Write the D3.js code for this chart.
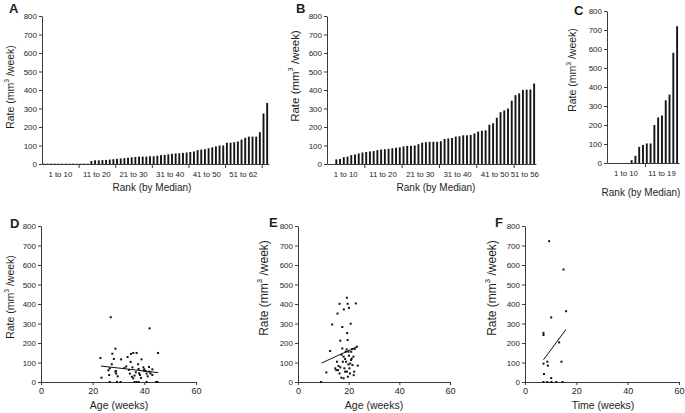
<!DOCTYPE html>
<html><head><meta charset="utf-8">
<script src="https://cdn.jsdelivr.net/npm/d3@7/dist/d3.min.js"></script>
<style>body{margin:0;background:#fff}svg{display:block;font-family:"Liberation Sans",Arial,sans-serif}</style>
</head><body><svg id="c" width="685" height="413"></svg>
<script>
// ---------- data ----------
const rateTicks = [0,100,200,300,400,500,600,700,800];
const xTicks = [0,20,40,60];

const rankA = [2,2,2,2,2,2,2,2,2,2,2,2,2,
  16,20,20,21,22,24,26,
  28,30,32,34,36,38,40,40,40,42,
  42,45,48,50,52,55,57,58,60,62,
  65,68,75,78,80,85,90,95,100,100,
  115,115,118,122,132,142,148,148,148,172,273,330];
const groupsA = ["1 to 10","11 to 20","21 to 30","31 to 40","41 to 50","51 to 62"];

const rankB = [0,0,25,27,37,40,48,52,57,62,
  65,68,70,75,78,80,82,85,88,90,
  95,98,98,100,107,115,118,120,120,120,
  123,135,138,140,148,150,155,155,157,165,
  175,180,182,212,220,250,280,290,300,342,
  372,382,400,402,403,435];
const groupsB = ["1 to 10","11 to 20","21 to 30","31 to 40","41 to 50","51 to 56"];

const rankC = [0,0,0,0,0,0,15,38,85,95,103,103,200,240,250,330,360,580,720];
const groupsC = ["1 to 10","11 to 19"];

const ageD = [23.0,23.4,27.0,28.8,27.6,28.2,26.6,26.1,27.4,26.4,26.6,28.8,29.1,29.7,29.4,31.0,30.8,32.3,33.5,34.0,34.4,34.8,35.7,37.0,34.7,35.4,35.2,35.7,36.7,37.6,37.8,38.3,38.7,36.2,37.0,37.8,38.9,39.6,39.8,40.5,40.9,41.3,41.8,41.9,42.4,42.0,43.1,43.1,44.5,45.1,45.3,40.9,29.0,36.2,33.0,38.0,40.0];
const rateD = [123,22,332,171,145,118,70,60,91,36,0,53,43,29,0,116,0,72,128,62,43,144,149,149,103,75,27,19,50,91,67,36,21,0,0,0,116,75,58,56,43,29,77,53,44,275,65,36,0,0,149,0,56,33,80,45,65];
const fitD = [[23.2,82],[45.4,48]];

const ageE = [9.1,11.2,12.7,13.5,15.1,14.7,15.6,16.4,16.7,17.5,18.1,17.5,19.3,19.6,20.1,19.4,19.6,20.8,22.8,23.2,23.6,
  15.4,16.0,15.8,16.4,17.1,17.7,18.0,18.3,18.6,18.8,19.0,19.3,19.7,19.9,20.1,20.3,20.5,20.9,21.0,21.4,21.5,21.9,22.2,22.4,16.7,18.6,18.0,19.9,19.2,20.6,21.2,17.2,22.0];
const rateE = [0,49,159,295,61,70,351,401,212,282,372,172,432,401,380,251,215,299,403,181,84,
  104,82,61,44,22,104,130,70,118,155,104,53,27,90,135,70,44,113,155,169,87,130,53,169,75,53,19,155,167,95,120,140,35];
const fitE = [[9.3,97],[23.6,183]];

const timeF = [9.4,15.0,16.0,10.2,7.2,7.2,13.3,14.2,7.2,8.7,8.9,7.4,10.2,7.2,8.7,10.3,12.2,14.6];
const rateF = [722,577,363,331,252,241,203,104,94,104,84,41,20,0,0,0,0,0];
const fitF = [[7.2,114],[16.0,270]];

// ---------- drawing ----------
const svg = d3.select("#c");
const ink = "#1e1e1e", axisCol = "#3a3a3a";

function styleAxis(g, fs){
  g.select(".domain").attr("stroke", axisCol);
  g.selectAll(".tick line").attr("stroke", axisCol);
  g.selectAll(".tick text").attr("fill", ink).style("font-size", fs+"px").attr("font-family","Liberation Sans, Arial, sans-serif");
}

function yTitle(x, y, size){
  const t = svg.append("text").attr("transform",`translate(${x},${y}) rotate(-90)`)
    .attr("text-anchor","middle").attr("dominant-baseline","central")
    .attr("fill", ink).style("font-size", size+"px");
  t.append("tspan").text("Rate (mm");
  t.append("tspan").text("3").style("font-size",(size*0.65)+"px").attr("dy", -size*0.4);
  t.append("tspan").text(" /week)").attr("dy", size*0.4);
}
function text(x,y,s,size,opts={}){
  svg.append("text").attr("x",x).attr("y",y).text(s)
    .attr("text-anchor",opts.anchor||"middle").attr("dominant-baseline",opts.base||"central")
    .attr("fill",ink).style("font-size",size+"px").style("font-weight",opts.bold?"bold":"normal");
}

function barPanel(c){
  const y = d3.scaleLinear().domain([0,800]).range([c.yb, c.yt]);
  const n = c.values.length;
  const xb = d3.scaleBand().domain(d3.range(n)).range([c.x0, c.x1]).paddingInner(0);
  const xi = d3.scaleLinear().domain([0,n]).range([c.x0, c.x1]);
  const bw = 1.9;
  svg.append("g").selectAll("rect").data(c.values).join("rect")
    .attr("x",(d,i)=>xb(i)+xb.bandwidth()/2-bw/2).attr("width",bw)
    .attr("y",d=>y(d)).attr("height",d=>y(0)-y(d)).attr("fill","#151515");
  const ga = svg.append("g").attr("transform",`translate(${c.x0},0)`)
    .call(d3.axisLeft(y).tickValues(rateTicks).tickSize(3).tickSizeOuter(0).tickPadding(2));
  styleAxis(ga, 8);
  const tv = d3.range(10, n, 10);
  const gx = svg.append("g").attr("transform",`translate(0,${c.yb})`)
    .call(d3.axisBottom(xi).tickValues(tv).tickFormat("").tickSize(4).tickSizeOuter(0));
  styleAxis(gx, 8);
  c.groups.forEach((g,k)=>{
    const a = k*10, b = Math.min(n, a+10);
    text(xi((a+b)/2), c.yb+10, g, 7.8);
  });
  yTitle(c.ytx, c.yty, c.yts);
  text(c.xtx, c.xty, "Rank (by Median)", 10);
  text(c.lx, c.ly, c.letter, 13, {anchor:"start", base:"auto", bold:true});
}

function scatterPanel(c){
  const y = d3.scaleLinear().domain([0,800]).range([382, 226]);
  const x = d3.scaleLinear().domain([0,60]).range([c.x0, c.x1]);
  const ga = svg.append("g").attr("transform",`translate(${c.x0},0)`)
    .call(d3.axisLeft(y).tickValues(rateTicks).tickSize(3).tickSizeOuter(0).tickPadding(2));
  styleAxis(ga, 8);
  const gx = svg.append("g").attr("transform",`translate(0,382)`)
    .call(d3.axisBottom(x).tickValues(xTicks).tickSize(3).tickSizeOuter(0).tickPadding(3));
  styleAxis(gx, 9);
  svg.append("g").selectAll("rect").data(c.xs).join("rect")
    .attr("x",(d)=>x(d)-1).attr("y",(d,i)=>y(c.ys[i])-1).attr("width",2).attr("height",2).attr("fill","#111");
  svg.append("path").datum(c.fit).attr("d", d3.line().x(d=>x(d[0])).y(d=>y(d[1])))
    .attr("stroke","#111").attr("stroke-width",1).attr("fill","none");
  yTitle(c.ytx, c.yty, c.yts);
  text(c.xtx, 405, c.xtitle, 10.5);
  text(c.lx, c.ly, c.letter, 13, {anchor:"start", base:"auto", bold:true});
}

barPanel({values:rankA, groups:groupsA, x0:42, x1:269, yt:16, yb:164, ytx:10, yty:87, yts:10.5, xtx:152, xty:187, lx:9, ly:13, letter:"A"});
barPanel({values:rankB, groups:groupsB, x0:327, x1:536, yt:16, yb:164, ytx:295, yty:76, yts:11.5, xtx:436, xty:187, lx:296, ly:13, letter:"B"});
barPanel({values:rankC, groups:groupsC, x0:607, x1:679, yt:11, yb:163, ytx:572, yty:70, yts:10.5, xtx:641, xty:192, lx:574, ly:15, letter:"C"});

scatterPanel({xs:ageD, ys:rateD, fit:fitD, x0:41, x1:196, ytx:10, yty:297, yts:10.5, xtx:119, xtitle:"Age (weeks)", lx:10, ly:228, letter:"D"});
scatterPanel({xs:ageE, ys:rateE, fit:fitE, x0:298, x1:450, ytx:264, yty:288, yts:12, xtx:374, xtitle:"Age (weeks)", lx:269, ly:227, letter:"E"});
scatterPanel({xs:timeF, ys:rateF, fit:fitF, x0:525, x1:679, ytx:492, yty:288, yts:12, xtx:603, xtitle:"Time (weeks)", lx:495, ly:227, letter:"F"});
</script></body></html>
